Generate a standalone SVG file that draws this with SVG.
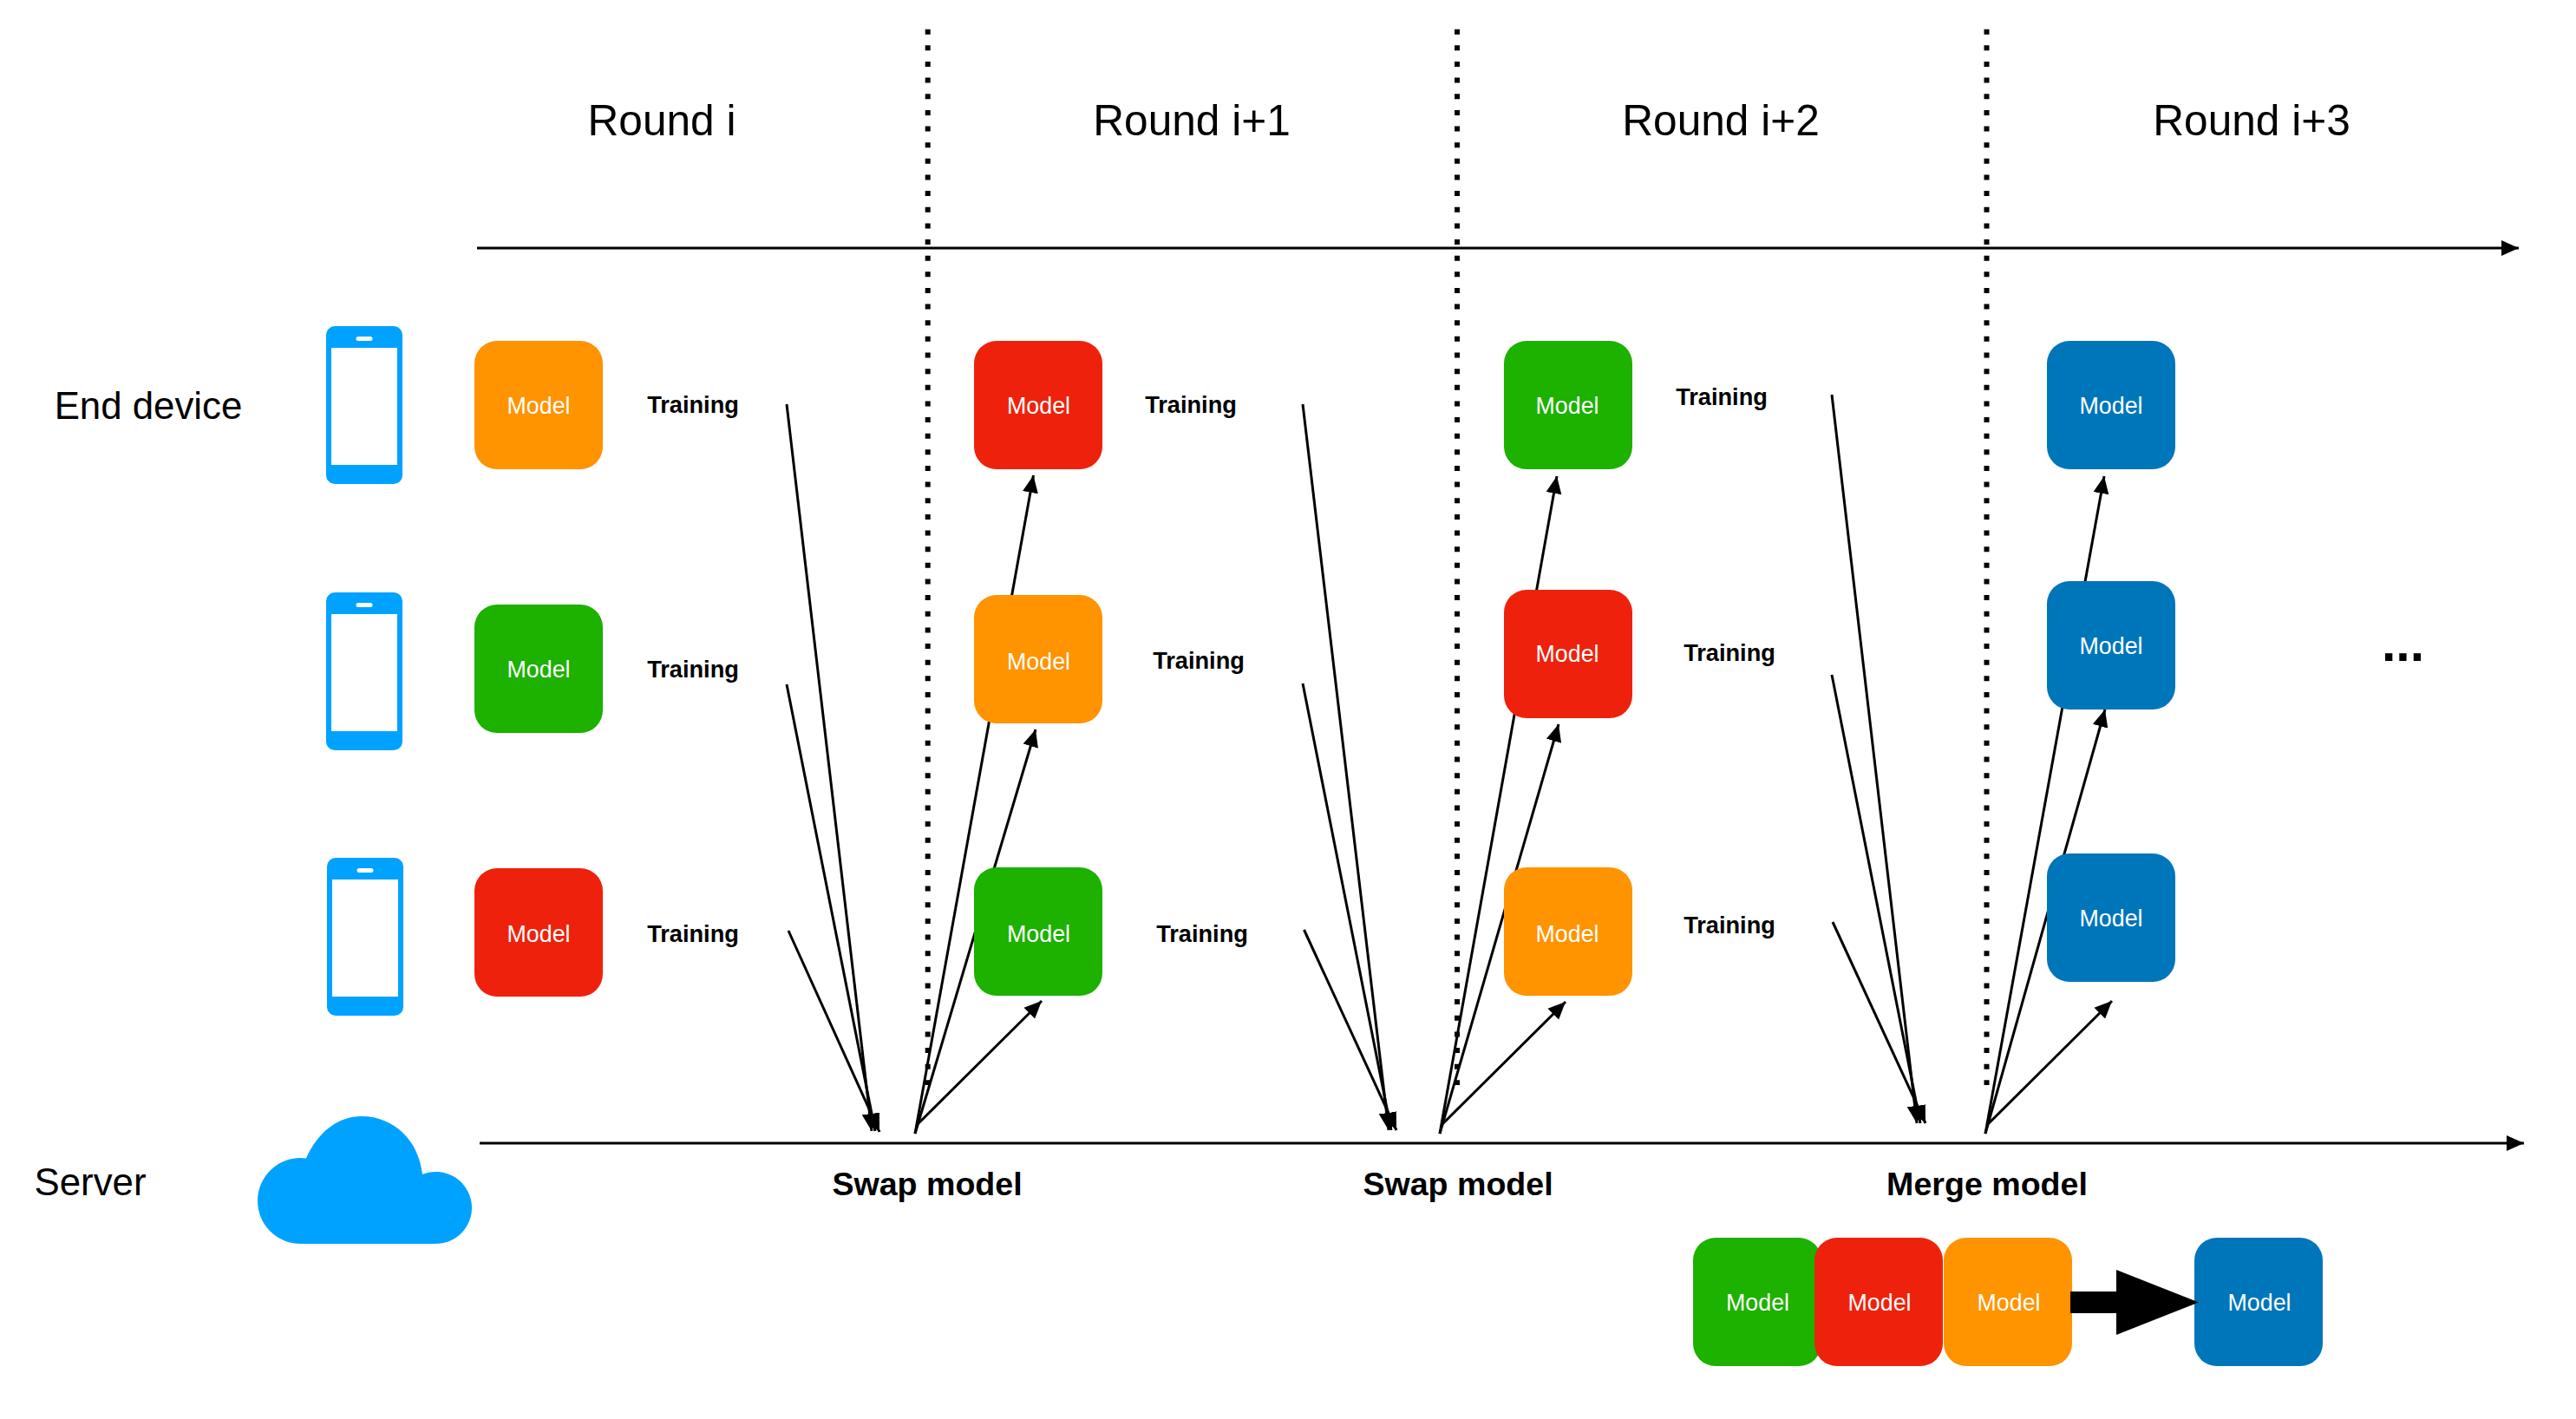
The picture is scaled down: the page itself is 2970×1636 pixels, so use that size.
<svg xmlns="http://www.w3.org/2000/svg" width="2970" height="1636" viewBox="0 0 2970 1636">
<style>
text{font-family:"Liberation Sans",Arial,sans-serif;text-anchor:middle}
.m{font-size:26.8px;fill:#fff}
.t{font-size:27.2px;font-weight:bold;fill:#000}
.b{font-size:37.6px;font-weight:bold;fill:#000}
.h{font-size:49.6px;fill:#000}
.l{font-size:43.8px;fill:#000}
.e{font-size:59px;font-weight:bold;fill:#000}
.c{fill:none;stroke:#000;stroke-width:3}
.a{marker-end:url(#ah)}
.d{fill:none;stroke:#000;stroke-width:6;stroke-dasharray:6 12.64}
.o{fill:#ff9300}.g{fill:#1db100}.r{fill:#ee220c}.u{fill:#0076ba}
.ic{fill:#00a2ff}
</style>
<defs>
<marker id="ah" markerUnits="userSpaceOnUse" markerWidth="22" markerHeight="20" refX="20" refY="10" orient="auto"><path d="M0 1 L20 10 L0 19 Z" fill="#000"/></marker>
<rect id="box" width="148" height="148" rx="26"/>
<g id="phone"><path class="ic" fill-rule="evenodd" d="M10 0H78A10 10 0 0 1 88 10V172A10 10 0 0 1 78 182H10A10 10 0 0 1 0 172V10A10 10 0 0 1 10 0ZM6 25V160H82V25ZM37 12A2.500 2.500 0 0 0 37 17H51A2.500 2.500 0 0 0 51 12Z"/></g>
</defs>
<rect width="2970" height="1636" fill="#fff"/>
<g id="connectors">
<path class="d" d="M1069.700 33.700V1251M1680 33.700V1251M2290.500 33.700V1251"/>
<path class="c a" d="M550 286H2904"/>
<path class="c a" d="M553 1318H2910"/>
<path class="c a" d="M907 466L1005 1304"/>
<path class="c a" d="M907 789L1009 1304"/>
<path class="c a" d="M909 1073L1014 1305"/>
<path class="c a" d="M1055 1307L1191.500 548"/>
<path class="c a" d="M1055 1307L1194 841"/>
<path class="c a" d="M1057 1297L1201 1154"/>
<path class="c a" d="M1502 466L1601 1303"/>
<path class="c a" d="M1502 788L1604 1303"/>
<path class="c a" d="M1503.500 1072L1610 1303"/>
<path class="c a" d="M1660 1307L1795 549"/>
<path class="c a" d="M1660 1307L1797 835"/>
<path class="c a" d="M1662 1297L1805 1155"/>
<path class="c a" d="M2112 455L2210 1295"/>
<path class="c a" d="M2112 778L2214 1295"/>
<path class="c a" d="M2113 1063L2220 1295"/>
<path class="c a" d="M2289 1307L2426 549"/>
<path class="c a" d="M2289 1307L2427 818"/>
<path class="c a" d="M2291 1297L2435 1154"/>
</g>
<g id="headings">
<text class="h" x="763" y="155.500">Round i</text>
<text class="h" x="1374" y="155.500">Round i+1</text>
<text class="h" x="1984" y="155.500">Round i+2</text>
<text class="h" x="2596" y="155.500">Round i+3</text>
<text class="l" x="171" y="483">End device</text>
<text class="l" x="104" y="1378">Server</text>
<text class="e" x="2770.500" y="762">...</text>
</g>
<g id="phone1"><use href="#phone" x="376" y="376"/></g>
<g id="phone2"><use href="#phone" x="376" y="683"/></g>
<g id="phone3"><use href="#phone" x="377" y="989"/></g>
<g id="cloud"><path class="ic" d="M346.500 1434A49.500 49.500 0 0 1 346.500 1335Q350 1335 353 1335.500C366 1306 389 1287 417 1287C455 1287 483 1316 487 1354A41.500 41.500 0 1 1 502 1434Z"/></g>
<g id="n11"><use href="#box" class="o" x="547" y="393"/><text class="m" x="621" y="477">Model</text></g>
<g id="n12"><use href="#box" class="g" x="547" y="697"/><text class="m" x="621" y="781">Model</text></g>
<g id="n13"><use href="#box" class="r" x="547" y="1001"/><text class="m" x="621" y="1085.500">Model</text></g>
<g id="n21"><use href="#box" class="r" x="1123" y="393"/><text class="m" x="1197.500" y="477">Model</text></g>
<g id="n22"><use href="#box" class="o" x="1123" y="686"/><text class="m" x="1197.500" y="771.500">Model</text></g>
<g id="n23"><use href="#box" class="g" x="1123" y="1000"/><text class="m" x="1197.500" y="1085.500">Model</text></g>
<g id="n31"><use href="#box" class="g" x="1734" y="393"/><text class="m" x="1807" y="477">Model</text></g>
<g id="n32"><use href="#box" class="r" x="1734" y="680"/><text class="m" x="1807" y="763">Model</text></g>
<g id="n33"><use href="#box" class="o" x="1734" y="1000"/><text class="m" x="1807" y="1085.500">Model</text></g>
<g id="n41"><use href="#box" class="u" x="2360" y="393"/><text class="m" x="2434" y="477">Model</text></g>
<g id="n42"><use href="#box" class="u" x="2360" y="670"/><text class="m" x="2434" y="754">Model</text></g>
<g id="n43"><use href="#box" class="u" x="2360" y="984"/><text class="m" x="2434" y="1068">Model</text></g>
<g id="labels">
<text class="t" x="799" y="476">Training</text>
<text class="t" x="799" y="781">Training</text>
<text class="t" x="799" y="1086">Training</text>
<text class="t" x="1373" y="476">Training</text>
<text class="t" x="1382" y="771">Training</text>
<text class="t" x="1386" y="1086">Training</text>
<text class="t" x="1985" y="467">Training</text>
<text class="t" x="1994" y="762">Training</text>
<text class="t" x="1994" y="1076">Training</text>
<text class="b" x="1069" y="1378">Swap model</text>
<text class="b" x="1681" y="1378">Swap model</text>
<text class="b" x="2291" y="1378">Merge model</text>
</g>
<g id="merge">
<g id="m1"><use href="#box" class="g" x="1952" y="1427"/><text class="m" x="2026.500" y="1510.500">Model</text></g>
<g id="m2"><use href="#box" class="r" x="2092" y="1427"/><text class="m" x="2167" y="1510.500">Model</text></g>
<g id="m3"><use href="#box" class="o" x="2241" y="1427"/><text class="m" x="2316" y="1510.500">Model</text></g>
<g id="m4"><use href="#box" class="u" x="2530" y="1427"/><text class="m" x="2605" y="1510.500">Model</text></g>
<path id="big-arrow" d="M2387 1489H2440V1464L2535 1501.500L2440 1539V1514H2387Z" fill="#000"/>
</g>
</svg>
